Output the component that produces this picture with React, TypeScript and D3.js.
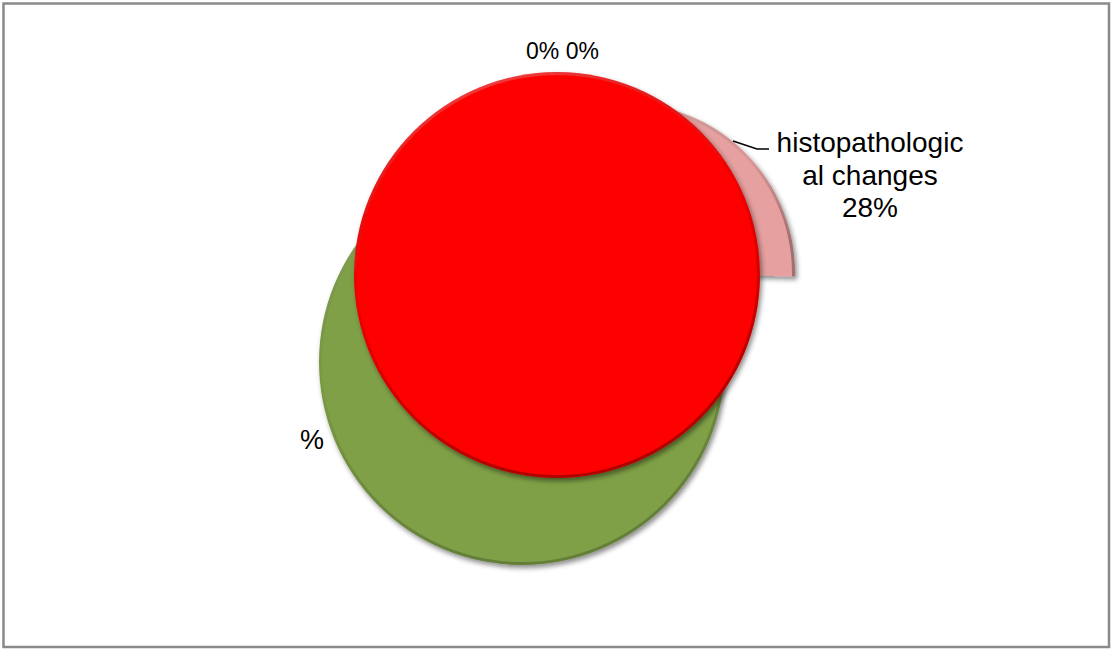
import React from "react";
import * as d3 from "d3";

// ---- data ----
const categories = ["histopathological changes", "zero A", "zero B", "green slice", "red slice"];
const percents = [28, 0, 0, 100, 100];
const sliceColors = ["#E5A09F", "#4F81BD", "#8064A2", "#7FA047", "#FE0505"];
const labelLines = ["histopathologic", "al changes", "28%"];
const zeroLabels = ["0%", "0%"];
const otherLabel = "%";

const W = 1112;
const H = 650;

export default function App() {
  const cx = 557;
  const cy = 276;
  const R = 203;
  const Rp = 170;
  const toAngle = d3.scaleLinear().domain([0, 100]).range([0, 2 * Math.PI]);
  const arc = d3.arc<any>().innerRadius(0).outerRadius(R);
  const arcP = d3.arc<any>().innerRadius(0).outerRadius(Rp);

  // pink wedge: ends at ~90deg (pointing right), spans its percent
  const pinkEnd = Math.PI / 2 + 0.02;
  const pinkStart = pinkEnd - toAngle(percents[0]);
  const pinkPath = arcP({ startAngle: pinkStart, endAngle: pinkEnd }) as string;
  const greenPath = arc({ startAngle: 0, endAngle: toAngle(percents[3]) }) as string;
  const redPath = arc({ startAngle: 0, endAngle: toAngle(percents[4]) }) as string;

  const rimArc = d3.arc<any>().innerRadius(R - 3).outerRadius(R);
  const rimCircle = rimArc({ startAngle: 0, endAngle: 2 * Math.PI }) as string;
  const pinkRim = d3.arc<any>().innerRadius(Rp - 3).outerRadius(Rp)({ startAngle: pinkStart, endAngle: pinkEnd }) as string;

  const font = "Liberation Sans, Arial, sans-serif";

  return (
    <svg
      width={W}
      height={H}
      style={{ position: "fixed", left: 0, top: 0, background: "#fff" }}
    >
      <defs>
        <filter id="shadow" x="-20%" y="-20%" width="140%" height="140%">
          <feDropShadow dx="2" dy="3" stdDeviation="2.5" floodColor="#000" floodOpacity="0.45" />
        </filter>
        <linearGradient id="rim" x1="0" y1="0" x2="0.3" y2="1">
          <stop offset="0" stopColor="#ffffff" stopOpacity="0.35" />
          <stop offset="0.5" stopColor="#000000" stopOpacity="0.05" />
          <stop offset="1" stopColor="#000000" stopOpacity="0.3" />
        </linearGradient>
      </defs>
      <rect x={3.5} y={3.5} width={W - 6.5} height={H - 6.5} fill="#fff" stroke="#8a8a8a" strokeWidth={2.5} />

      {/* pink exploded wedge */}
      <g transform={`translate(${cx + 68},${cy - 3})`} filter="url(#shadow)">
        <path d={pinkPath} fill={sliceColors[0]} />
        <path d={pinkRim} fill="url(#rim)" />
      </g>
      {/* green */}
      <g transform={`translate(${cx - 35},${cy + 86})`} filter="url(#shadow)">
        <path d={greenPath} fill={sliceColors[3]} />
        <path d={rimCircle} fill="url(#rim)" opacity={0.7} />
      </g>
      {/* red */}
      <g transform={`translate(${cx},${cy - 1})`} filter="url(#shadow)">
        <path d={redPath} fill={sliceColors[4]} />
        <path d={rimCircle} fill="url(#rim)" />
      </g>

      {/* leader line */}
      <polyline points="733,141 757,149 769,149" fill="none" stroke="#000" strokeWidth={1.5} />

      <text fontFamily={font} fontSize={28} fill="#000" textAnchor="middle">
        {labelLines.map((l, i) => (
          <tspan key={i} x={870} y={152 + i * 32.5}>
            {l}
          </tspan>
        ))}
      </text>
      <text fontFamily={font} fontSize={23} fill="#000" x={526} y={59}>
        {zeroLabels.join(" ")}
      </text>
      <text fontFamily={font} fontSize={27} fill="#000" x={300} y={449}>
        {otherLabel}
      </text>
    </svg>
  );
}
